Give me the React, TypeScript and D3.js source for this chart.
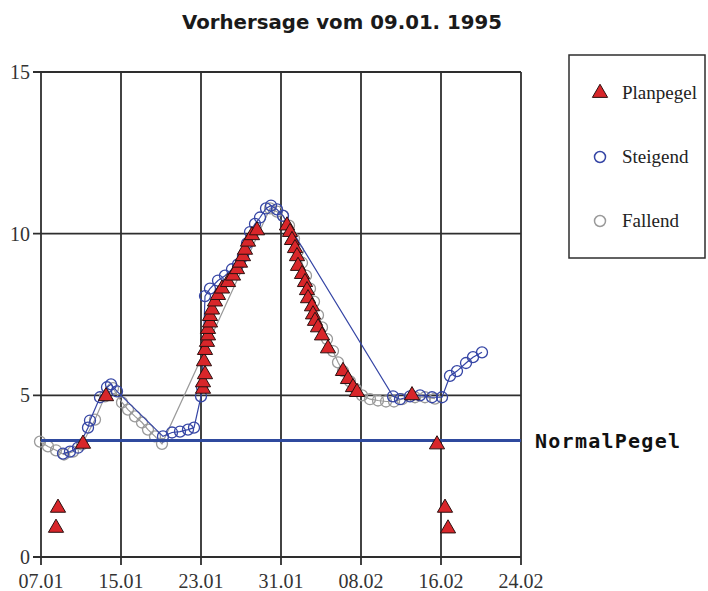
import React, { useEffect, useRef } from "react";
import * as d3 from "d3";

// x values are day of year 1995 (7 = 07.01, 55 = 24.02)
const xTicks = [7, 15, 23, 31, 39, 47, 55];
const xTickLabels = ["07.01", "15.01", "23.01", "31.01", "08.02", "16.02", "24.02"];
const yTicks = [0, 5, 10, 15];
const normalPegel = 3.6;

const planDays = [8.7, 8.5, 11.2, 13.5, 23.2, 23.2, 23.4, 23.3, 23.4, 23.6, 23.7, 23.7, 23.9, 23.9,
  24.1, 24.4, 24.7, 25.1, 25.7, 26.2, 26.6, 26.9, 27.2, 27.4, 27.7, 28.1, 28.6,
  31.6, 31.9, 32.1, 32.4, 32.6, 32.7, 33.1, 33.4, 33.6, 33.7, 34.1, 34.2, 34.4, 34.7, 35.1, 35.7,
  37.2, 37.7, 38.2, 38.6, 44.1, 46.6, 47.4, 47.7];
const planValues = [1.52, 0.9, 3.5, 4.97, 5.2, 5.4, 5.65, 6.05, 6.4, 6.65, 6.85, 7.05, 7.25, 7.45,
  7.65, 7.9, 8.1, 8.3, 8.5, 8.7, 8.9, 9.1, 9.3, 9.5, 9.75, 9.95, 10.1,
  10.25, 10.05, 9.8, 9.55, 9.3, 9.0, 8.75, 8.5, 8.25, 8.0, 7.75, 7.5, 7.3, 7.1, 6.85, 6.45,
  5.75, 5.5, 5.25, 5.1, 5.0, 3.48, 1.52, 0.88];

const steigDays = [9.2, 9.9, 10.7, 11.7, 11.9, 12.9, 13.6, 14.0, 14.6, 19.2, 20.1, 20.9, 21.7, 22.3,
  23.0, 23.1, 23.4, 23.9, 24.7, 25.4, 26.1, 26.7, 27.2, 27.6, 27.9, 28.4, 28.9, 29.5, 30.0, 30.6, 31.2,
  42.2, 42.9, 43.9, 44.9, 46.1, 47.1, 47.9, 48.6, 49.5, 50.2, 51.1];
const steigValues = [3.2, 3.26, 3.38, 4.0, 4.22, 4.94, 5.25, 5.34, 5.12, 3.73, 3.85, 3.88, 3.94, 4.0,
  4.97, 5.25, 8.07, 8.3, 8.55, 8.7, 8.9, 9.05, 9.3, 9.7, 10.05, 10.3, 10.5, 10.78, 10.87, 10.75, 10.55,
  4.97, 4.88, 4.97, 5.0, 4.94, 4.94, 5.6, 5.75, 6.0, 6.18, 6.33];

const fallDays = [6.9, 7.7, 8.5, 9.3, 10.2, 11.1, 12.4, 13.4, 14.2, 15.1, 15.7, 16.4, 17.1, 17.7, 18.4, 19.1,
  29.9, 30.6, 31.2, 31.8, 32.3, 32.7, 33.1, 33.5, 33.9, 34.3, 34.7, 35.1, 35.6, 36.2, 36.7, 37.2,
  37.9, 38.5, 39.1, 39.9, 40.7, 41.5, 42.3, 43.1, 44.4, 45.4, 46.4];
const fallValues = [3.57, 3.42, 3.3, 3.17, 3.26, 3.48, 4.25, 4.97, 5.22, 4.78, 4.56, 4.35, 4.16, 3.94, 3.73, 3.5,
  10.78, 10.68, 10.56, 10.25, 9.85, 9.47, 9.1, 8.7, 8.3, 7.9, 7.48, 7.1, 6.74, 6.37, 6.02, 5.75,
  5.43, 5.19, 5.0, 4.88, 4.84, 4.81, 4.81, 4.88, 4.94, 4.94, 4.9];

const legendNames = ["Planpegel", "Steigend", "Fallend"];

const App = () => {
  const ref = useRef<SVGSVGElement>(null);

  useEffect(() => {
    const svg = d3.select(ref.current);
    svg.selectAll("*").remove();

    const width = 708;
    const height = 591;
    const gridColor = "#2e2e2e";
    const blue = "#3545a5";
    const gray = "#9a9a9a";
    const red = "#d8262a";
    const serif = "'Liberation Serif', 'Times New Roman', serif";

    const xScale = d3.scaleLinear().domain([7, 55]).range([41, 521]);
    const yScale = d3.scaleLinear().domain([0, 15]).range([557, 72]);

    svg.attr("width", width).attr("height", height).style("background", "white");

    // title
    svg.append("text")
      .attr("x", 342)
      .attr("y", 29)
      .attr("text-anchor", "middle")
      .attr("textLength", 320)
      .attr("lengthAdjust", "spacingAndGlyphs")
      .style("font-family", "'DejaVu Sans', sans-serif")
      .style("font-weight", "bold")
      .style("font-size", "19px")
      .style("fill", "#1a1a1a")
      .text("Vorhersage vom 09.01. 1995");

    // grid
    const grid = svg.append("g");
    grid.selectAll("line.v")
      .data(xTicks)
      .enter()
      .append("line")
      .attr("x1", (d) => xScale(d))
      .attr("x2", (d) => xScale(d))
      .attr("y1", yScale(15))
      .attr("y2", yScale(0) + 8)
      .attr("stroke", gridColor)
      .attr("stroke-width", 1.8);
    grid.selectAll("line.h")
      .data(yTicks)
      .enter()
      .append("line")
      .attr("x1", xScale(7) - 8)
      .attr("x2", xScale(55))
      .attr("y1", (d) => yScale(d))
      .attr("y2", (d) => yScale(d))
      .attr("stroke", gridColor)
      .attr("stroke-width", 1.8);

    // tick labels
    svg.append("g").selectAll("text")
      .data(xTicks)
      .enter()
      .append("text")
      .attr("x", (d) => xScale(d))
      .attr("y", 588)
      .attr("text-anchor", "middle")
      .style("font-family", serif)
      .style("font-size", "20px")
      .style("fill", "#333")
      .text((d, i) => xTickLabels[i]);
    svg.append("g").selectAll("text")
      .data(yTicks)
      .enter()
      .append("text")
      .attr("x", 30)
      .attr("y", (d) => yScale(d) + 7)
      .attr("text-anchor", "end")
      .style("font-family", serif)
      .style("font-size", "20px")
      .style("fill", "#333")
      .text((d) => d);

    const lineGen = d3.line<[number, number]>()
      .x((d) => xScale(d[0]))
      .y((d) => yScale(d[1]));

    // Fallend
    const fall: [number, number][] = fallDays.map((d, i) => [d, fallValues[i]]);
    svg.append("path")
      .attr("d", lineGen(fall))
      .attr("fill", "none")
      .attr("stroke", gray)
      .attr("stroke-width", 1.2);
    svg.append("g").selectAll("circle")
      .data(fall)
      .enter()
      .append("circle")
      .attr("cx", (d) => xScale(d[0]))
      .attr("cy", (d) => yScale(d[1]))
      .attr("r", 5.5)
      .attr("fill", "none")
      .attr("stroke", gray)
      .attr("stroke-width", 1.3);

    // Steigend
    const steig: [number, number][] = steigDays.map((d, i) => [d, steigValues[i]]);
    svg.append("path")
      .attr("d", lineGen(steig))
      .attr("fill", "none")
      .attr("stroke", blue)
      .attr("stroke-width", 1.2);
    svg.append("g").selectAll("circle")
      .data(steig)
      .enter()
      .append("circle")
      .attr("cx", (d) => xScale(d[0]))
      .attr("cy", (d) => yScale(d[1]))
      .attr("r", 5.5)
      .attr("fill", "none")
      .attr("stroke", blue)
      .attr("stroke-width", 1.3);

    // normal level
    svg.append("line")
      .attr("x1", xScale(7))
      .attr("x2", xScale(55))
      .attr("y1", yScale(normalPegel))
      .attr("y2", yScale(normalPegel))
      .attr("stroke", "#2f4a9e")
      .attr("stroke-width", 3);
    svg.append("text")
      .attr("x", 535)
      .attr("y", yScale(normalPegel) + 7)
      .attr("textLength", 145)
      .attr("lengthAdjust", "spacing")
      .style("font-family", "'DejaVu Sans Mono', monospace")
      .style("font-weight", "bold")
      .style("font-size", "20px")
      .style("fill", "#111")
      .text("NormalPegel");

    // Planpegel
    const tri = d3.symbol().type(d3.symbolTriangle).size(100);
    svg.append("g").selectAll("path")
      .data(planDays)
      .enter()
      .append("path")
      .attr("d", tri)
      .attr("transform", (d, i) => "translate(" + xScale(d) + "," + yScale(planValues[i]) + ")")
      .attr("fill", red)
      .attr("stroke", "#2a1010")
      .attr("stroke-width", 1);

    // legend
    const legend = svg.append("g");
    legend.append("rect")
      .attr("x", 569)
      .attr("y", 55)
      .attr("width", 136)
      .attr("height", 203)
      .attr("fill", "white")
      .attr("stroke", gridColor)
      .attr("stroke-width", 1.5);
    const legendY = [93, 157, 221];
    legend.append("path")
      .attr("d", tri)
      .attr("transform", "translate(600," + legendY[0] + ")")
      .attr("fill", red)
      .attr("stroke", "#2a1010");
    legend.append("circle")
      .attr("cx", 600).attr("cy", legendY[1]).attr("r", 5.5)
      .attr("fill", "none").attr("stroke", blue).attr("stroke-width", 1.5);
    legend.append("circle")
      .attr("cx", 600).attr("cy", legendY[2]).attr("r", 5.5)
      .attr("fill", "none").attr("stroke", gray).attr("stroke-width", 1.5);
    legend.selectAll("text")
      .data(legendNames)
      .enter()
      .append("text")
      .attr("x", 622)
      .attr("y", (d, i) => legendY[i] + 6)
      .style("font-family", serif)
      .style("font-size", "19px")
      .style("fill", "#222")
      .text((d) => d);
  }, []);

  return (
    <svg ref={ref} style={{ position: "absolute", left: 0, top: 0 }}></svg>
  );
};

export default App;
